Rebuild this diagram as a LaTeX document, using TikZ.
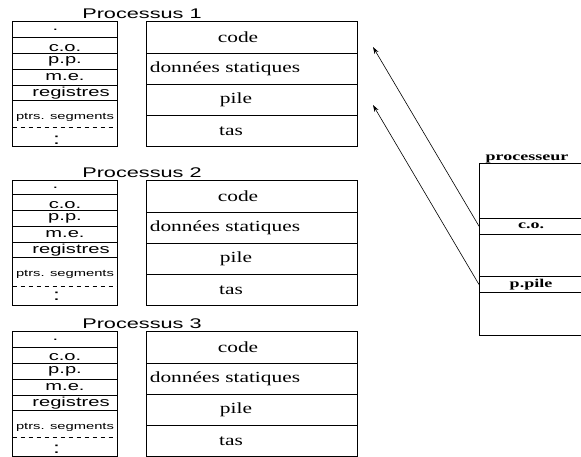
\documentclass[tikz,border=0pt]{standalone}
\usepackage{fontspec}
\setmainfont[FakeStretch=1.38]{Liberation Serif}
\setsansfont[FakeStretch=1.55]{Liberation Sans}
\newfontfamily\procfont[FakeStretch=1.5]{Liberation Serif}
\usetikzlibrary{positioning,arrows.meta}

\tikzset{
  champ/.style={draw,outer sep=0pt,inner sep=0pt,minimum width=105pt,font=\sffamily\fontsize{13}{13}\selectfont},
  zone/.style={draw,outer sep=0pt,inner sep=0pt,minimum width=211pt,minimum height=31.25pt,font=\fontsize{15.5}{15.5}\selectfont},
  titre/.style={anchor=base,font=\sffamily\fontsize{14}{14}\selectfont},
  registre/.style={draw,outer sep=0pt,inner sep=0pt,minimum width=104pt,font=\procfont\bfseries\fontsize{12}{12}\selectfont},
  fleche/.style={-{Stealth[length=7pt,width=4.5pt]},line width=0.6pt}
}

\begin{document}
\begin{tikzpicture}[x=1pt,y=-1pt,line width=0.8pt]
\useasboundingbox (0,0) rectangle (581,456);
\clip (0,0) rectangle (581,456);
\foreach \t/\h/\n in {21.7/16/1,180.7/13.8/2,331.7/15.6/3}{
  \node[titre] (titre\n) at (142,\t-3) {Processus \n};
  \node[champ,minimum height=\h pt,anchor=north west] (vide\n) at (12.5,\t) {.\hspace{19pt}\mbox{}};
  \node[champ,minimum height=16pt,below=0pt of vide\n,text height=11pt,text depth=0pt] (co\n) {c.o.};
  \node[champ,minimum height=16pt,below=0pt of co\n] (pp\n) {p.p.};
  \node[champ,minimum height=15.7pt,below=0pt of pp\n] (me\n) {m.e.};
  \node[champ,minimum height=15.3pt,below=0pt of me\n] (reg\n) {\mbox{}\hspace{12pt}registres};
  \node[champ,draw=none,minimum height=27.5pt,below=0pt of reg\n,font=\sffamily\fontsize{9.5}{9.5}\selectfont,yshift=-3pt] (ptrs\n) {ptrs. segments};
  \node[champ,draw=none,minimum height=19.5pt,below=0pt of ptrs\n,font=\sffamily\fontsize{16}{16}\selectfont,yshift=1pt] (suite\n) {:\hspace{17pt}\mbox{}};
  \draw (reg\n.south west) rectangle (reg\n.south east |- 0,\t+125);
  \draw[dashed,dash pattern=on 4pt off 4pt,line width=0.6pt] (reg\n.south west |- 0,\t+106) -- (reg\n.south east |- 0,\t+106);
  \node[zone,anchor=north west] (code\n) at (146.5,\t) {code\hspace{28pt}\mbox{}};
  \node[zone,below=0pt of code\n] (donnees\n) {données statiques\hspace{54pt}\mbox{}};
  \node[zone,below=0pt of donnees\n] (pile\n) {pile\hspace{32pt}\mbox{}};
  \node[zone,below=0pt of pile\n] (tas\n) {tas\hspace{42pt}\mbox{}};
}
\node[registre,minimum height=55.3pt,anchor=north west] (haut) at (479,163) {};
\node[registre,minimum height=15.7pt,below=0pt of haut] (co) {c.o.};
\node[registre,minimum height=42.7pt,below=0pt of co] (milieu) {};
\node[registre,minimum height=15.6pt,below=0pt of milieu] (ppile) {p.pile};
\node[registre,minimum height=42.7pt,below=0pt of ppile] (bas) {};
\node[anchor=base,font=\procfont\bfseries\fontsize{12}{12}\selectfont] (processeur) at ([xshift=-4pt,yshift=3pt]haut.north) {processeur};
\coordinate (cible1) at (373,47);
\coordinate (cible2) at (373,105);
\draw[fleche] (co.west) -- (cible1);
\draw[fleche] (ppile.west) -- (cible2);
\end{tikzpicture}
\end{document}
